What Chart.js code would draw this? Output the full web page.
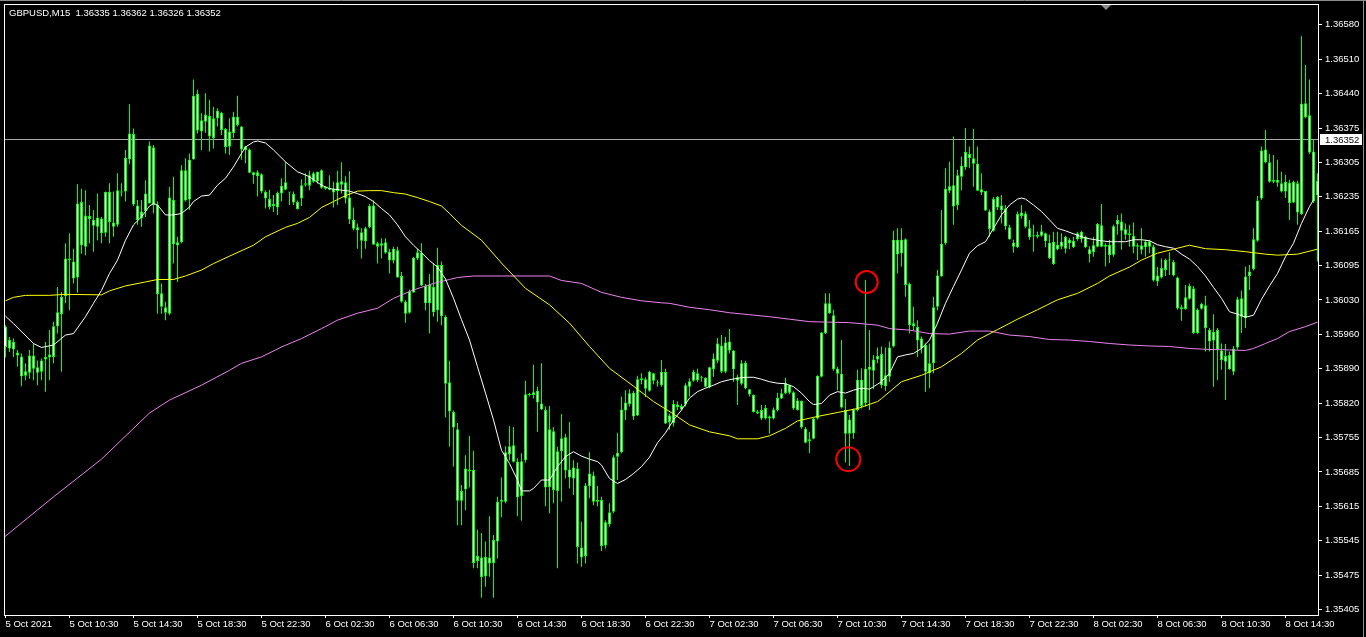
<!DOCTYPE html>
<html>
<head>
<meta charset="utf-8">
<script src="https://cdn.jsdelivr.net/npm/chart.js@4.4.1/dist/chart.umd.min.js"></script>
<style>
  html, body { margin: 0; padding: 0; background: #000; overflow: hidden; }
</style>
</head>
<body>
<canvas id="chart" width="1366" height="637"></canvas>
<script>
  // GBPUSD M15, 15-minute bars
  var symbolName = "GBPUSD,M15";
  var lastBarOhlc = [1.36335, 1.36362, 1.36326, 1.36352];
  var bidPrice = 1.36352;

  var xTickIdx = [0, 16, 32, 48, 64, 80, 96, 112, 128, 144, 160, 176, 192, 208, 224, 240, 256, 272, 288, 304, 320];
  var xTickLabels = ["5 Oct 2021", "5 Oct 10:30", "5 Oct 14:30", "5 Oct 18:30", "5 Oct 22:30",
    "6 Oct 02:30", "6 Oct 06:30", "6 Oct 10:30", "6 Oct 14:30", "6 Oct 18:30", "6 Oct 22:30",
    "7 Oct 02:30", "7 Oct 06:30", "7 Oct 10:30", "7 Oct 14:30", "7 Oct 18:30", "7 Oct 22:30",
    "8 Oct 02:30", "8 Oct 06:30", "8 Oct 10:30", "8 Oct 14:30"];
  var yTickLabels = ["1.36580", "1.36510", "1.36440", "1.36375", "1.36305", "1.36235", "1.36165",
    "1.36095", "1.36030", "1.35960", "1.35890", "1.35820", "1.35755", "1.35685", "1.35615",
    "1.35545", "1.35475", "1.35405"];

  var opens = [
    1.35976, 1.35932, 1.35945, 1.35924, 1.35916, 1.35877, 1.35883, 1.35918, 1.35894, 1.35885,
    1.35910, 1.35914, 1.35915, 1.35977, 1.36001, 1.36037, 1.36113, 1.36107, 1.36075, 1.36227,
    1.36137, 1.36199, 1.36191, 1.36177, 1.36194, 1.36165, 1.36247, 1.36186, 1.36181, 1.36248,
    1.36248, 1.36313, 1.36364, 1.36220, 1.36194, 1.36209, 1.36224, 1.36337, 1.36221, 1.36043,
    1.36015, 1.36002, 1.36231, 1.36140, 1.36146, 1.36291, 1.36232, 1.36313, 1.36445, 1.36369,
    1.36389, 1.36401, 1.36356, 1.36396, 1.36407, 1.36374, 1.36339, 1.36366, 1.36399, 1.36379,
    1.36332, 1.36333, 1.36287, 1.36279, 1.36283, 1.36247, 1.36233, 1.36219, 1.36216, 1.36244,
    1.36267, 1.36247, 1.36243, 1.36227, 1.36234, 1.36262, 1.36260, 1.36285, 1.36269, 1.36291,
    1.36254, 1.36256, 1.36254, 1.36249, 1.36269, 1.36267, 1.36236, 1.36191, 1.36176, 1.36166,
    1.36148, 1.36176, 1.36220, 1.36144, 1.36139, 1.36146, 1.36127, 1.36109, 1.36130, 1.36078,
    1.36026, 1.36004, 1.36045, 1.36113, 1.36125, 1.36058, 1.36023, 1.36056, 1.36009, 1.36100,
    1.35996, 1.35864, 1.35804, 1.35769, 1.35625, 1.35648, 1.35688, 1.35687, 1.35504, 1.35511,
    1.35473, 1.35511, 1.35500, 1.35543, 1.35623, 1.35623, 1.35719, 1.35737, 1.35704, 1.35635,
    1.35707, 1.35840, 1.35838, 1.35847, 1.35821, 1.35808, 1.35653, 1.35765, 1.35645, 1.35725,
    1.35753, 1.35688, 1.35670, 1.35690, 1.35531, 1.35514, 1.35655, 1.35676, 1.35623, 1.35627,
    1.35535, 1.35578, 1.35603, 1.35714, 1.35723, 1.35807, 1.35820, 1.35843, 1.35797, 1.35868,
    1.35870, 1.35847, 1.35882, 1.35863, 1.35858, 1.35885, 1.35784, 1.35782, 1.35819, 1.35816,
    1.35819, 1.35855, 1.35867, 1.35882, 1.35873, 1.35873, 1.35854, 1.35890, 1.35907, 1.35938,
    1.35885, 1.35946, 1.35928, 1.35874, 1.35861, 1.35903, 1.35850, 1.35838, 1.35805, 1.35808,
    1.35791, 1.35795, 1.35791, 1.35808, 1.35831, 1.35842, 1.35858, 1.35844, 1.35808, 1.35826,
    1.35770, 1.35745, 1.35750, 1.35791, 1.35875, 1.35963, 1.36023, 1.35999, 1.35891, 1.35881,
    1.35808, 1.35760, 1.35809, 1.35808, 1.35869, 1.35822, 1.35889, 1.35887, 1.35910, 1.35921,
    1.35856, 1.35875, 1.35936, 1.36151, 1.36124, 1.36152, 1.36062, 1.35977, 1.35975, 1.35952,
    1.35939, 1.35882, 1.35902, 1.36016, 1.36077, 1.36144, 1.36250, 1.36261, 1.36221, 1.36278,
    1.36297, 1.36324, 1.36315, 1.36304, 1.36253, 1.36249, 1.36208, 1.36169, 1.36237, 1.36220,
    1.36214, 1.36176, 1.36145, 1.36136, 1.36206, 1.36204, 1.36174, 1.36159, 1.36161, 1.36159,
    1.36164, 1.36145, 1.36102, 1.36141, 1.36137, 1.36157, 1.36144, 1.36149, 1.36152, 1.36167,
    1.36157, 1.36132, 1.36126, 1.36137, 1.36180, 1.36137, 1.36141, 1.36121, 1.36182, 1.36188,
    1.36172, 1.36160, 1.36159, 1.36137, 1.36140, 1.36136, 1.36148, 1.36137, 1.36067, 1.36075,
    1.36090, 1.36110, 1.36106, 1.36075, 1.36015, 1.36011, 1.36032, 1.36053, 1.35963, 1.36012,
    1.36019, 1.35969, 1.35948, 1.35969, 1.35928, 1.35905, 1.35919, 1.35885, 1.35934, 1.36033,
    1.35993, 1.36078, 1.36092, 1.36149, 1.36234, 1.36333, 1.36307, 1.36268, 1.36272, 1.36265,
    1.36248, 1.36266, 1.36226, 1.36265, 1.36203, 1.36426, 1.36402, 1.36329, 1.36240
  ];
  var highs = [
    1.35979, 1.35955, 1.35952, 1.35929, 1.35922, 1.35902, 1.35929, 1.35942, 1.35908, 1.35912,
    1.35945, 1.35969, 1.35986, 1.36056, 1.36046, 1.36144, 1.36164, 1.36133, 1.36263, 1.36254,
    1.36251, 1.36221, 1.36211, 1.36244, 1.36197, 1.36248, 1.36265, 1.36248, 1.36285, 1.36265,
    1.36332, 1.36424, 1.36375, 1.36231, 1.36231, 1.36271, 1.36349, 1.36342, 1.36228, 1.36063,
    1.36026, 1.36258, 1.36278, 1.36157, 1.36301, 1.36315, 1.36325, 1.36474, 1.36453, 1.36406,
    1.36446, 1.36433, 1.36419, 1.36416, 1.36409, 1.36376, 1.36396, 1.36409, 1.36441, 1.36380,
    1.36340, 1.36335, 1.36288, 1.36291, 1.36285, 1.36251, 1.36252, 1.36241, 1.36248, 1.36275,
    1.36308, 1.36247, 1.36248, 1.36230, 1.36273, 1.36285, 1.36290, 1.36288, 1.36288, 1.36293,
    1.36259, 1.36281, 1.36268, 1.36290, 1.36307, 1.36279, 1.36289, 1.36216, 1.36184, 1.36174,
    1.36177, 1.36223, 1.36230, 1.36147, 1.36154, 1.36154, 1.36133, 1.36137, 1.36137, 1.36086,
    1.36029, 1.36051, 1.36117, 1.36133, 1.36144, 1.36062, 1.36082, 1.36103, 1.36135, 1.36107,
    1.35999, 1.35907, 1.35807, 1.35782, 1.35657, 1.35717, 1.35756, 1.35726, 1.35567, 1.35560,
    1.35543, 1.35594, 1.35556, 1.35633, 1.35672, 1.35735, 1.35776, 1.35774, 1.35711, 1.35721,
    1.35867, 1.35843, 1.35899, 1.35855, 1.35902, 1.35815, 1.35816, 1.35774, 1.35734, 1.35800,
    1.35760, 1.35784, 1.35707, 1.35702, 1.35583, 1.35661, 1.35723, 1.35684, 1.35655, 1.35633,
    1.35586, 1.35620, 1.35717, 1.35762, 1.35835, 1.35848, 1.35850, 1.35847, 1.35877, 1.35882,
    1.35874, 1.35887, 1.35883, 1.35868, 1.35909, 1.35891, 1.35801, 1.35828, 1.35825, 1.35820,
    1.35862, 1.35872, 1.35889, 1.35891, 1.35877, 1.35874, 1.35895, 1.35922, 1.35953, 1.35959,
    1.35955, 1.35971, 1.35929, 1.35879, 1.35909, 1.35907, 1.35851, 1.35839, 1.35808, 1.35818,
    1.35818, 1.35797, 1.35813, 1.35843, 1.35851, 1.35873, 1.35859, 1.35846, 1.35832, 1.35827,
    1.35774, 1.35764, 1.35792, 1.35878, 1.35965, 1.36043, 1.36043, 1.36010, 1.35895, 1.35949,
    1.35830, 1.35798, 1.35811, 1.35889, 1.35892, 1.36070, 1.35969, 1.35919, 1.35934, 1.35936,
    1.35934, 1.35946, 1.36169, 1.36174, 1.36174, 1.36154, 1.36065, 1.36016, 1.35989, 1.35956,
    1.35942, 1.35942, 1.36036, 1.36090, 1.36211, 1.36295, 1.36308, 1.36359, 1.36292, 1.36319,
    1.36376, 1.36339, 1.36374, 1.36339, 1.36285, 1.36249, 1.36212, 1.36237, 1.36239, 1.36241,
    1.36221, 1.36181, 1.36151, 1.36208, 1.36221, 1.36208, 1.36191, 1.36181, 1.36167, 1.36181,
    1.36165, 1.36161, 1.36167, 1.36167, 1.36164, 1.36159, 1.36154, 1.36157, 1.36167, 1.36169,
    1.36159, 1.36138, 1.36157, 1.36185, 1.36223, 1.36144, 1.36151, 1.36181, 1.36201, 1.36204,
    1.36184, 1.36181, 1.36186, 1.36144, 1.36174, 1.36151, 1.36151, 1.36141, 1.36096, 1.36113,
    1.36113, 1.36126, 1.36110, 1.36077, 1.36020, 1.36060, 1.36063, 1.36058, 1.36013, 1.36024,
    1.36038, 1.35973, 1.36001, 1.35973, 1.35942, 1.35941, 1.35926, 1.35937, 1.36036, 1.36049,
    1.36097, 1.36100, 1.36174, 1.36239, 1.36339, 1.36372, 1.36324, 1.36322, 1.36312, 1.36288,
    1.36282, 1.36272, 1.36270, 1.36270, 1.36561, 1.36503, 1.36474, 1.36352, 1.36285
  ];
  var lows = [
    1.35914, 1.35925, 1.35915, 1.35895, 1.35856, 1.35868, 1.35871, 1.35868, 1.35858, 1.35868,
    1.35845, 1.35868, 1.35902, 1.35962, 1.35885, 1.36023, 1.36009, 1.36063, 1.36044, 1.36123,
    1.36120, 1.36144, 1.36127, 1.36150, 1.36144, 1.36157, 1.36144, 1.36157, 1.36177, 1.36238,
    1.36228, 1.36303, 1.36219, 1.36181, 1.36177, 1.36197, 1.36224, 1.36204, 1.36002, 1.36002,
    1.35989, 1.35999, 1.36103, 1.36066, 1.36144, 1.36228, 1.36211, 1.36312, 1.36365, 1.36332,
    1.36366, 1.36329, 1.36335, 1.36379, 1.36362, 1.36325, 1.36322, 1.36356, 1.36379, 1.36312,
    1.36305, 1.36285, 1.36264, 1.36238, 1.36244, 1.36214, 1.36212, 1.36207, 1.36201, 1.36228,
    1.36251, 1.36221, 1.36221, 1.36212, 1.36219, 1.36258, 1.36251, 1.36266, 1.36264, 1.36254,
    1.36252, 1.36251, 1.36216, 1.36221, 1.36244, 1.36224, 1.36183, 1.36170, 1.36133, 1.36113,
    1.36133, 1.36174, 1.36141, 1.36103, 1.36113, 1.36123, 1.36083, 1.36103, 1.36075, 1.36024,
    1.35984, 1.36002, 1.36044, 1.36110, 1.36058, 1.36009, 1.35962, 1.35996, 1.35986, 1.35979,
    1.35793, 1.35734, 1.35694, 1.35576, 1.35576, 1.35606, 1.35652, 1.35489, 1.35489, 1.35430,
    1.35452, 1.35472, 1.35430, 1.35509, 1.35592, 1.35620, 1.35707, 1.35702, 1.35594, 1.35585,
    1.35702, 1.35835, 1.35831, 1.35764, 1.35808, 1.35614, 1.35600, 1.35620, 1.35489, 1.35623,
    1.35670, 1.35650, 1.35637, 1.35499, 1.35492, 1.35499, 1.35630, 1.35616, 1.35614, 1.35524,
    1.35529, 1.35573, 1.35600, 1.35667, 1.35721, 1.35788, 1.35815, 1.35788, 1.35796, 1.35860,
    1.35834, 1.35845, 1.35860, 1.35855, 1.35855, 1.35780, 1.35768, 1.35775, 1.35808, 1.35808,
    1.35815, 1.35835, 1.35865, 1.35865, 1.35865, 1.35854, 1.35852, 1.35875, 1.35902, 1.35882,
    1.35882, 1.35922, 1.35865, 1.35818, 1.35858, 1.35850, 1.35835, 1.35803, 1.35800, 1.35788,
    1.35789, 1.35760, 1.35789, 1.35805, 1.35830, 1.35840, 1.35840, 1.35808, 1.35807, 1.35770,
    1.35741, 1.35721, 1.35749, 1.35789, 1.35874, 1.35961, 1.36002, 1.35887, 1.35848, 1.35811,
    1.35702, 1.35695, 1.35750, 1.35805, 1.35811, 1.35815, 1.35808, 1.35850, 1.35902, 1.35852,
    1.35847, 1.35865, 1.35934, 1.36083, 1.36097, 1.36036, 1.35962, 1.35969, 1.35915, 1.35922,
    1.35845, 1.35852, 1.35882, 1.36009, 1.36077, 1.36141, 1.36245, 1.36181, 1.36211, 1.36251,
    1.36292, 1.36295, 1.36258, 1.36249, 1.36241, 1.36209, 1.36157, 1.36167, 1.36211, 1.36184,
    1.36171, 1.36151, 1.36125, 1.36134, 1.36194, 1.36174, 1.36151, 1.36127, 1.36154, 1.36157,
    1.36136, 1.36112, 1.36100, 1.36130, 1.36132, 1.36124, 1.36132, 1.36134, 1.36149, 1.36145,
    1.36134, 1.36105, 1.36117, 1.36136, 1.36136, 1.36097, 1.36104, 1.36117, 1.36161, 1.36131,
    1.36151, 1.36137, 1.36124, 1.36110, 1.36122, 1.36117, 1.36124, 1.36067, 1.36058, 1.36073,
    1.36078, 1.36080, 1.36077, 1.36010, 1.35988, 1.36010, 1.36030, 1.35961, 1.35961, 1.36010,
    1.35926, 1.35926, 1.35855, 1.35868, 1.35889, 1.35828, 1.35889, 1.35878, 1.35930, 1.35963,
    1.35973, 1.36050, 1.36089, 1.36147, 1.36231, 1.36305, 1.36266, 1.36265, 1.36258, 1.36246,
    1.36235, 1.36191, 1.36225, 1.36181, 1.36201, 1.36396, 1.36324, 1.36225, 1.36107
  ];
  var closes = [
    1.35935, 1.35949, 1.35930, 1.35918, 1.35876, 1.35886, 1.35918, 1.35891, 1.35883, 1.35908,
    1.35915, 1.35920, 1.35977, 1.36005, 1.36036, 1.36113, 1.36110, 1.36073, 1.36224, 1.36140,
    1.36200, 1.36193, 1.36179, 1.36196, 1.36164, 1.36247, 1.36187, 1.36177, 1.36251, 1.36246,
    1.36316, 1.36365, 1.36222, 1.36191, 1.36208, 1.36244, 1.36341, 1.36221, 1.36041, 1.36016,
    1.36004, 1.36236, 1.36142, 1.36146, 1.36291, 1.36230, 1.36312, 1.36441, 1.36371, 1.36392,
    1.36403, 1.36359, 1.36396, 1.36411, 1.36372, 1.36338, 1.36369, 1.36399, 1.36382, 1.36333,
    1.36339, 1.36286, 1.36281, 1.36287, 1.36248, 1.36234, 1.36217, 1.36223, 1.36245, 1.36260,
    1.36252, 1.36246, 1.36226, 1.36213, 1.36261, 1.36265, 1.36281, 1.36268, 1.36288, 1.36256,
    1.36258, 1.36252, 1.36246, 1.36267, 1.36262, 1.36234, 1.36192, 1.36173, 1.36170, 1.36149,
    1.36174, 1.36219, 1.36141, 1.36137, 1.36144, 1.36125, 1.36109, 1.36133, 1.36075, 1.36026,
    1.36002, 1.36047, 1.36115, 1.36126, 1.36059, 1.36023, 1.36060, 1.36005, 1.36100, 1.35997,
    1.35861, 1.35805, 1.35773, 1.35625, 1.35645, 1.35690, 1.35684, 1.35500, 1.35514, 1.35471,
    1.35512, 1.35499, 1.35546, 1.35623, 1.35627, 1.35723, 1.35735, 1.35704, 1.35632, 1.35705,
    1.35840, 1.35838, 1.35844, 1.35823, 1.35809, 1.35652, 1.35769, 1.35647, 1.35725, 1.35751,
    1.35686, 1.35672, 1.35692, 1.35532, 1.35511, 1.35656, 1.35680, 1.35623, 1.35627, 1.35534,
    1.35582, 1.35602, 1.35713, 1.35722, 1.35809, 1.35823, 1.35842, 1.35795, 1.35870, 1.35872,
    1.35851, 1.35885, 1.35867, 1.35862, 1.35885, 1.35781, 1.35797, 1.35820, 1.35814, 1.35809,
    1.35858, 1.35866, 1.35885, 1.35868, 1.35875, 1.35855, 1.35894, 1.35912, 1.35942, 1.35885,
    1.35944, 1.35928, 1.35890, 1.35867, 1.35902, 1.35852, 1.35839, 1.35804, 1.35801, 1.35791,
    1.35812, 1.35791, 1.35809, 1.35832, 1.35842, 1.35862, 1.35843, 1.35811, 1.35827, 1.35773,
    1.35742, 1.35749, 1.35791, 1.35877, 1.35964, 1.36023, 1.36003, 1.35890, 1.35881, 1.35813,
    1.35760, 1.35789, 1.35761, 1.35869, 1.35816, 1.35891, 1.35895, 1.35910, 1.35917, 1.35858,
    1.35878, 1.35934, 1.36151, 1.36122, 1.36151, 1.36060, 1.35979, 1.35983, 1.35948, 1.35932,
    1.35885, 1.35902, 1.36015, 1.36079, 1.36143, 1.36254, 1.36259, 1.36218, 1.36281, 1.36300,
    1.36328, 1.36315, 1.36304, 1.36250, 1.36246, 1.36210, 1.36172, 1.36233, 1.36216, 1.36211,
    1.36178, 1.36152, 1.36137, 1.36203, 1.36199, 1.36177, 1.36156, 1.36161, 1.36157, 1.36168,
    1.36148, 1.36114, 1.36147, 1.36132, 1.36147, 1.36133, 1.36151, 1.36136, 1.36164, 1.36152,
    1.36136, 1.36122, 1.36140, 1.36183, 1.36137, 1.36141, 1.36120, 1.36178, 1.36191, 1.36169,
    1.36161, 1.36164, 1.36137, 1.36140, 1.36131, 1.36147, 1.36137, 1.36069, 1.36079, 1.36094,
    1.36110, 1.36109, 1.36079, 1.36013, 1.36011, 1.36035, 1.36058, 1.35963, 1.36010, 1.36022,
    1.35973, 1.35946, 1.35965, 1.35930, 1.35909, 1.35917, 1.35890, 1.35932, 1.36031, 1.35996,
    1.36077, 1.36087, 1.36152, 1.36230, 1.36331, 1.36307, 1.36268, 1.36272, 1.36266, 1.36248,
    1.36268, 1.36225, 1.36268, 1.36206, 1.36425, 1.36398, 1.36327, 1.36228, 1.36270
  ];

  // moving averages, sampled along the curves (bar index -> price)
  var whiteMaIdx = [0, 2, 7, 9, 12, 15, 17, 20, 22, 24, 26, 28, 30, 32, 34, 36, 37, 38, 40, 42,
    44, 46, 47, 49, 51, 53, 55, 57, 59, 60, 62, 63, 65, 67, 70, 73, 76, 79, 81, 84,
    86, 88, 90, 92, 94, 96, 98, 100, 102, 104, 106, 108, 110, 112, 114, 116, 118, 120, 122, 124,
    126, 128, 129, 131, 132, 134, 136, 138, 140, 142, 144, 146, 148, 149, 151, 153, 155, 157, 159, 161,
    163, 165, 167, 169, 171, 173, 175, 177, 179, 181, 183, 185, 187, 189, 191, 193, 195, 197, 199, 201,
    202, 204, 206, 208, 210, 212, 214, 216, 218, 219, 221, 223, 225, 227, 229, 231, 233, 235, 237, 239,
    241, 243, 245, 247, 249, 251, 253, 254, 255, 257, 259, 261, 263, 265, 267, 269, 271, 274, 276, 278,
    280, 282, 284, 286, 288, 290, 292, 294, 296, 298, 300, 302, 304, 306, 308, 310, 312, 314, 316, 318,
    320, 322, 324, 326, 327];
  var whiteMaVal = [1.35997, 1.35982, 1.35942, 1.35934, 1.35939, 1.35959, 1.35962, 1.35996, 1.36023, 1.36049,
    1.36083, 1.36110, 1.36150, 1.36181, 1.36197, 1.36219, 1.36224, 1.36221, 1.36201, 1.36201,
    1.36204, 1.36217, 1.36228, 1.36239, 1.36241, 1.36261, 1.36275, 1.36298, 1.36325, 1.36338,
    1.36348, 1.36350, 1.36346, 1.36332, 1.36308, 1.36288, 1.36278, 1.36261, 1.36254, 1.36251,
    1.36249, 1.36244, 1.36238, 1.36228, 1.36214, 1.36201, 1.36181, 1.36157, 1.36140, 1.36125,
    1.36109, 1.36096, 1.36072, 1.36033, 1.35990, 1.35949, 1.35895, 1.35842, 1.35788, 1.35727,
    1.35700, 1.35667, 1.35645, 1.35645, 1.35650, 1.35667, 1.35667, 1.35694, 1.35714, 1.35724,
    1.35715, 1.35709, 1.35704, 1.35697, 1.35670, 1.35660, 1.35668, 1.35680, 1.35694, 1.35713,
    1.35742, 1.35762, 1.35788, 1.35808, 1.35832, 1.35845, 1.35852, 1.35858, 1.35865, 1.35869,
    1.35872, 1.35874, 1.35874, 1.35870, 1.35865, 1.35862, 1.35861, 1.35855, 1.35842, 1.35825,
    1.35819, 1.35821, 1.35838, 1.35845, 1.35842, 1.35848, 1.35852, 1.35850, 1.35860, 1.35865,
    1.35882, 1.35915, 1.35919, 1.35922, 1.35932, 1.35949, 1.35983, 1.36023, 1.36057, 1.36090,
    1.36124, 1.36139, 1.36147, 1.36174, 1.36201, 1.36221, 1.36233, 1.36235, 1.36233, 1.36221,
    1.36208, 1.36191, 1.36174, 1.36169, 1.36163, 1.36157, 1.36153, 1.36149, 1.36147, 1.36147,
    1.36147, 1.36151, 1.36151, 1.36149, 1.36141, 1.36137, 1.36134, 1.36122, 1.36112, 1.36097,
    1.36078, 1.36055, 1.36033, 1.36006, 1.36001, 1.35995, 1.35999, 1.36031, 1.36058, 1.36083,
    1.36117, 1.36144, 1.36184, 1.36218, 1.36231];

  var yellowMaIdx = [0, 2, 5, 11, 15, 24, 26, 30, 35, 38, 42, 45, 49, 52, 56, 62, 65, 70, 73, 76,
    79, 82, 85, 88, 91, 94, 97, 100, 103, 106, 109, 111, 114, 119, 124, 130, 136, 141, 146, 151,
    157, 162, 167, 171, 176, 181, 183, 188, 191, 195, 198, 203, 208, 213, 218, 219, 224, 229, 234, 239,
    243, 248, 253, 258, 263, 268, 273, 276, 281, 284, 288, 292, 296, 300, 305, 310, 315, 318, 323, 328];
  var yellowMaVal = [1.36028, 1.36035, 1.36039, 1.36039, 1.36041, 1.36040, 1.36048, 1.36058, 1.36066, 1.36071,
    1.36071, 1.36078, 1.36090, 1.36103, 1.36118, 1.36140, 1.36157, 1.36176, 1.36184, 1.36196,
    1.36216, 1.36228, 1.36240, 1.36249, 1.36250, 1.36250, 1.36246, 1.36243, 1.36236, 1.36228,
    1.36219, 1.36204, 1.36180, 1.36150, 1.36104, 1.36053, 1.36020, 1.35983, 1.35936, 1.35892,
    1.35856, 1.35825, 1.35800, 1.35778, 1.35764, 1.35756, 1.35750, 1.35750, 1.35756, 1.35771,
    1.35786, 1.35795, 1.35803, 1.35811, 1.35825, 1.35831, 1.35865, 1.35878, 1.35895, 1.35922,
    1.35949, 1.35970, 1.35991, 1.36010, 1.36030, 1.36043, 1.36063, 1.36078, 1.36096, 1.36110,
    1.36124, 1.36132, 1.36140, 1.36133, 1.36131, 1.36127, 1.36122, 1.36120, 1.36122, 1.36132];

  var violetMaIdx = [-1, 0, 12, 24, 36, 41, 49, 56, 59, 64, 69, 74, 79, 83, 88, 93, 97, 102, 107, 111,
    113, 117, 124, 136, 139, 144, 149, 154, 159, 164, 166, 171, 176, 181, 186, 191, 196, 201, 206, 211,
    218, 221, 226, 231, 236, 241, 246, 251, 256, 261, 266, 271, 276, 281, 286, 291, 296, 301, 306, 310,
    312, 315, 318, 321, 325, 328];
  var violetMaVal = [1.35546, 1.35554, 1.35633, 1.35709, 1.35802, 1.35828, 1.35858, 1.35888, 1.35902, 1.35915,
    1.35935, 1.35952, 1.35972, 1.35989, 1.36003, 1.36013, 1.36033, 1.36050, 1.36063, 1.36071,
    1.36075, 1.36078, 1.36078, 1.36078, 1.36069, 1.36063, 1.36045, 1.36035, 1.36028, 1.36024,
    1.36023, 1.36015, 1.36010, 1.36004, 1.36000, 1.35996, 1.35991, 1.35986, 1.35985, 1.35984,
    1.35979, 1.35972, 1.35969, 1.35962, 1.35961, 1.35967, 1.35967, 1.35959, 1.35956, 1.35950,
    1.35949, 1.35946, 1.35942, 1.35939, 1.35937, 1.35936, 1.35932, 1.35930, 1.35929, 1.35928,
    1.35932, 1.35942, 1.35952, 1.35966, 1.35976, 1.35985];

  // hand-drawn red circles on the screenshot
  var markIdx = [215.3, 210.7];
  var markPrice = [1.36066, 1.35709];

  var priceMin = 1.35395;
  var priceMax = 1.36626;
  var tickTop = 1.36584;
  var tickBottom = 1.35406;

  var wickData = highs.map(function (h, i) {
    return { x: i, y: [lows[i], h] };
  });
  var bodyData = opens.map(function (o, i) {
    return { x: i, y: [o, closes[i]] };
  });

  function toPoints(idx, val) {
    return idx.map(function (x, k) {
      return { x: x, y: val[k] };
    });
  }

  var yTickValues = yTickLabels.map(function (s, k) {
    return tickBottom + (tickTop - tickBottom) * k / (yTickLabels.length - 1);
  });

  var FONT = '"Liberation Sans", Arial, sans-serif';

  var mtOverlay = {
    id: "mtOverlay",
    beforeDatasetsDraw: function (chart) {
      var ctx = chart.ctx;
      var area = chart.chartArea;
      var py = Math.floor(chart.scales.y.getPixelForValue(bidPrice)) + 0.5;
      ctx.save();
      ctx.strokeStyle = "#a8a8a8";
      ctx.lineWidth = 1;
      ctx.beginPath();
      ctx.moveTo(area.left, py);
      ctx.lineTo(area.right, py);
      ctx.stroke();
      ctx.restore();
    },
    afterDatasetsDraw: function (chart) {
      var ctx = chart.ctx;
      var xs = chart.scales.x;
      var ys = chart.scales.y;
      ctx.save();
      ctx.strokeStyle = "#ff0000";
      ctx.lineWidth = 2;
      markIdx.forEach(function (m, k) {
        ctx.beginPath();
        ctx.arc(xs.getPixelForValue(m), ys.getPixelForValue(markPrice[k]), k === 0 ? 11 : 12, 0, Math.PI * 2);
        ctx.stroke();
      });
      ctx.restore();
    },
    afterDraw: function (chart) {
      var ctx = chart.ctx;
      var area = chart.chartArea;
      var ys = chart.scales.y;
      ctx.save();

      // outer window edge
      ctx.strokeStyle = "#8c8c8c";
      ctx.lineWidth = 1;
      ctx.beginPath();
      ctx.moveTo(0, 0.5);
      ctx.lineTo(1366, 0.5);
      ctx.moveTo(1363.5, 0);
      ctx.lineTo(1363.5, 637);
      ctx.stroke();

      // chart frame
      ctx.strokeStyle = "#ffffff";
      ctx.strokeRect(area.left + 0.5, area.top + 0.5, area.right - area.left, area.bottom - area.top);

      // chart shift marker
      ctx.fillStyle = "#8c8c8c";
      ctx.beginPath();
      ctx.moveTo(1101, area.top + 1);
      ctx.lineTo(1111, area.top + 1);
      ctx.lineTo(1106, area.top + 6);
      ctx.closePath();
      ctx.fill();

      ctx.font = "9.5px " + FONT;
      ctx.textBaseline = "middle";

      // symbol line
      ctx.fillStyle = "#ffffff";
      var ohlcText = lastBarOhlc.map(function (v) { return v.toFixed(5); }).join(" ");
      ctx.fillText(symbolName + "  " + ohlcText, 9, 13);

      // bid price tag
      var py = Math.floor(ys.getPixelForValue(bidPrice)) + 0.5;
      ctx.fillStyle = "#ffffff";
      ctx.fillRect(area.right + 2, py - 5.5, 42, 11);
      ctx.fillStyle = "#000000";
      ctx.fillText(bidPrice.toFixed(5), area.right + 7, py + 0.5);
      ctx.restore();
    }
  };

  Chart.defaults.font.family = FONT;
  Chart.defaults.font.size = 9.5;
  Chart.defaults.color = "#ffffff";

  new Chart(document.getElementById("chart"), {
    type: "bar",
    data: {
      datasets: [
        {
          type: "line",
          label: "MA fast",
          data: toPoints(whiteMaIdx, whiteMaVal),
          borderColor: "#ffffff",
          borderWidth: 1,
          pointRadius: 0,
          tension: 0,
          order: 0
        },
        {
          type: "line",
          label: "MA mid",
          data: toPoints(yellowMaIdx, yellowMaVal),
          borderColor: "#ffff00",
          borderWidth: 1,
          pointRadius: 0,
          tension: 0,
          order: 0
        },
        {
          type: "line",
          label: "MA slow",
          data: toPoints(violetMaIdx, violetMaVal),
          borderColor: "#ee82ee",
          borderWidth: 1,
          pointRadius: 0,
          tension: 0,
          order: 0
        },
        {
          label: "Body",
          data: bodyData,
          backgroundColor: "#ffffff",
          borderColor: "#00ff00",
          borderWidth: 1,
          borderSkipped: false,
          barThickness: 3,
          minBarLength: 1,
          inflateAmount: 0,
          grouped: false,
          order: 1
        },
        {
          label: "Wick",
          data: wickData,
          backgroundColor: "#00ff00",
          borderColor: "#00ff00",
          borderWidth: 0,
          barThickness: 1,
          inflateAmount: 0,
          grouped: false,
          order: 2
        }
      ]
    },
    options: {
      responsive: false,
      animation: false,
      devicePixelRatio: 1,
      layout: {
        padding: { left: 4, top: 4, right: 0, bottom: 0 }
      },
      plugins: {
        legend: { display: false },
        tooltip: { enabled: false }
      },
      scales: {
        x: {
          type: "linear",
          position: "bottom",
          min: -0.375,
          max: 328.125,
          offset: false,
          grid: {
            offset: false,
            drawOnChartArea: false,
            drawTicks: true,
            tickLength: 3,
            color: "#ffffff"
          },
          border: { display: false },
          ticks: {
            align: "start",
            autoSkip: false,
            maxRotation: 0,
            minRotation: 0,
            padding: 1,
            color: "#ffffff",
            callback: function (value, index) {
              return xTickLabels[index];
            }
          },
          afterBuildTicks: function (scale) {
            scale.ticks = xTickIdx.map(function (v) { return { value: v }; });
          },
          afterFit: function (scale) {
            scale.height = 22;
            scale.paddingLeft = 0;
            scale.paddingRight = 0;
          }
        },
        y: {
          type: "linear",
          position: "right",
          min: priceMin,
          max: priceMax,
          beginAtZero: false,
          grid: {
            drawOnChartArea: false,
            drawTicks: true,
            tickLength: 4,
            color: "#ffffff"
          },
          border: { display: false },
          ticks: {
            autoSkip: false,
            padding: 3,
            color: "#ffffff",
            callback: function (value, index) {
              return yTickLabels[yTickLabels.length - 1 - index];
            }
          },
          afterBuildTicks: function (scale) {
            scale.ticks = yTickValues.map(function (v) { return { value: v }; });
          },
          afterFit: function (scale) {
            scale.width = 48;
            scale.paddingTop = 0;
            scale.paddingBottom = 0;
          }
        }
      }
    },
    plugins: [mtOverlay]
  });
</script>
</body>
</html>
